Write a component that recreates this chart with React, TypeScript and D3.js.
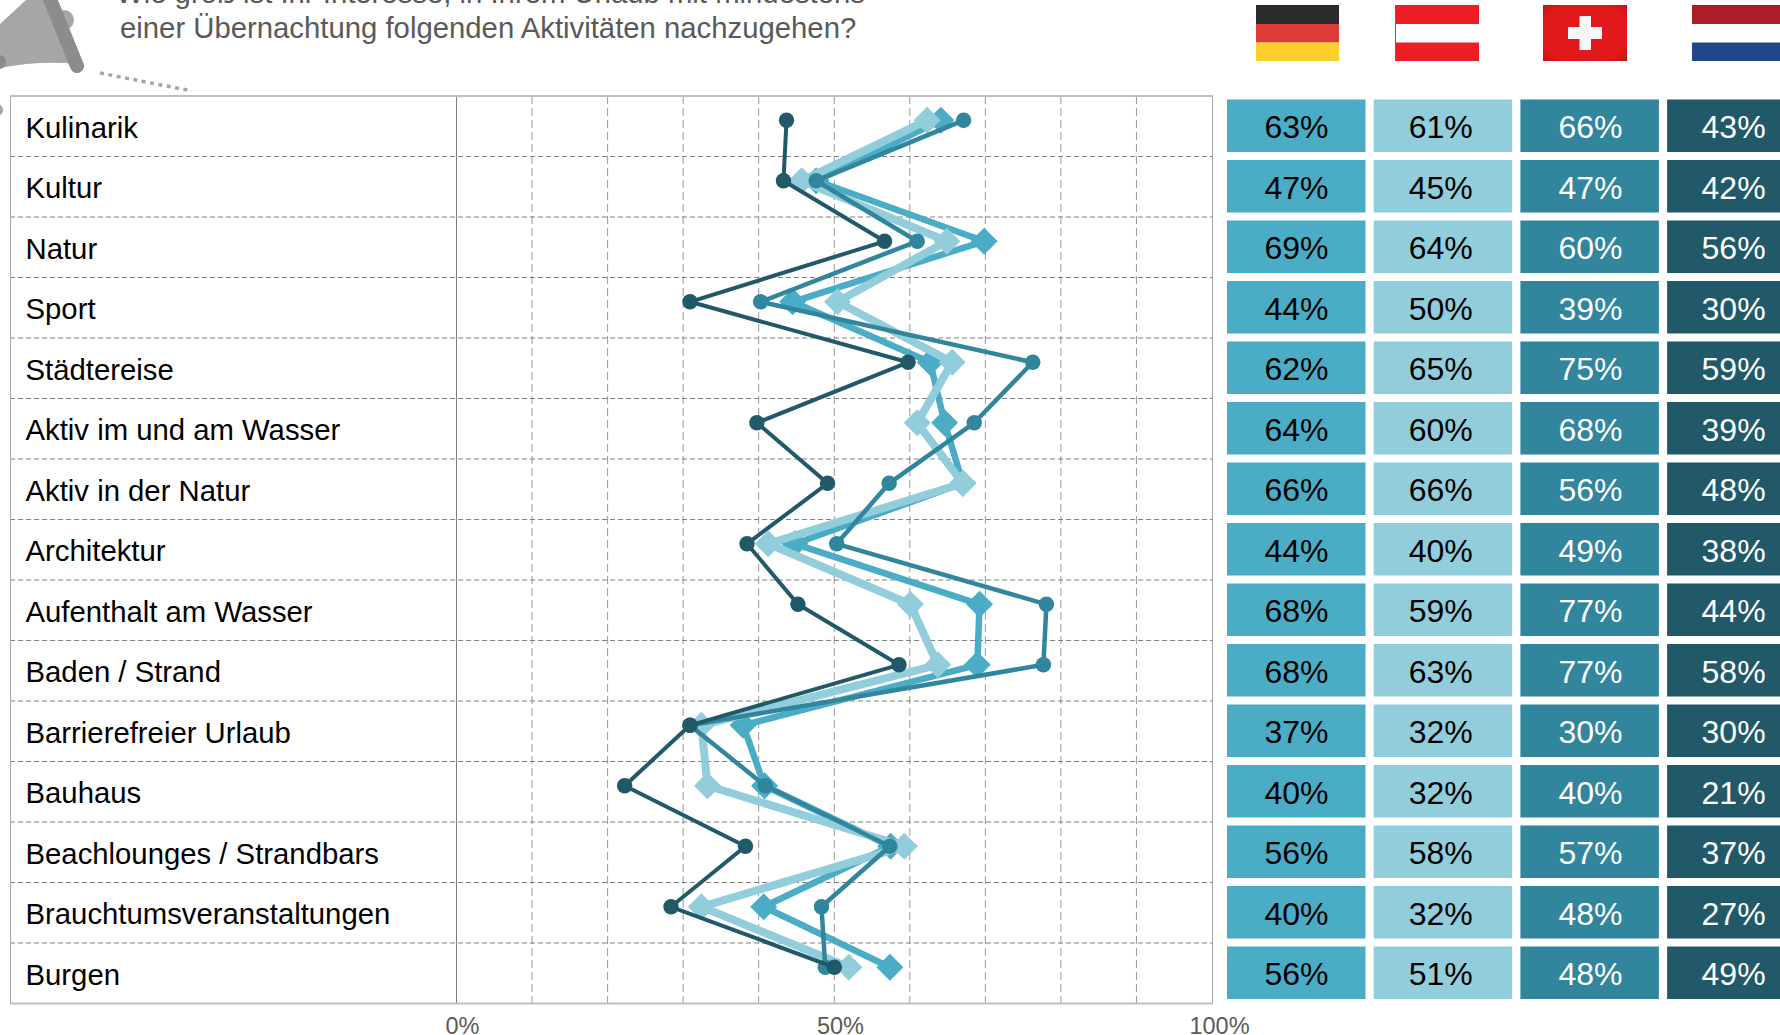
import React, { useEffect } from "react";
import * as d3 from "d3";

const categories = ["Kulinarik","Kultur","Natur","Sport","Städtereise","Aktiv im und am Wasser","Aktiv in der Natur","Architektur","Aufenthalt am Wasser","Baden / Strand","Barrierefreier Urlaub","Bauhaus","Beachlounges / Strandbars","Brauchtumsveranstaltungen","Burgen"];
// printed percentages
const germany = [63,47,69,44,62,64,66,44,68,68,37,40,56,40,56];
const austria = [61,45,64,50,65,60,66,40,59,63,32,32,58,32,51];
const switzerland = [66,47,60,39,75,68,56,49,77,77,30,40,57,48,48];
const netherlands = [43,42,56,30,59,39,48,38,44,58,30,21,37,27,49];
// unrounded values as plotted
const germanyPlot = [63,46.6,68.7,43.5,61.6,63.5,65.9,43.8,68.1,67.8,37,39.8,56.4,39.7,56.3];
const austriaPlot = [61.2,44.7,63.8,49.4,64.5,59.9,65.9,40.3,59,62.6,31.5,32.3,58.2,31.5,50.9];
const switzerlandPlot = [66,46.6,59.9,39.3,75.1,67.4,56.2,49.3,76.9,76.5,30,39.9,56.3,47.3,47.8];
const netherlandsPlot = [42.7,42.3,55.6,30,58.7,38.8,48.1,37.5,44.2,57.5,30,21.4,37.3,27.5,49];
const axisTicks = [0,50,100];
const gridTicks = [0,10,20,30,40,50,60,70,80,90,100];

const W = 1780, H = 1035;
const rowTop = 96, rowH = 60.5;
const series = [
  { values: germany, plot: germanyPlot, color: "#4BACC6", textColor: "#000", width: 6.5, marker: "diamond", size: 13.5, textDx: 0.5 },
  { values: austria, plot: austriaPlot, color: "#92CDDC", textColor: "#000", width: 8, marker: "diamond", size: 13.5, textDx: -2 },
  { values: switzerland, plot: switzerlandPlot, color: "#31859C", textColor: "#fff", width: 4.5, marker: "circle", size: 7.7, textDx: 1 },
  { values: netherlands, plot: netherlandsPlot, color: "#215968", textColor: "#fff", width: 4, marker: "circle", size: 7.7, textDx: -2.5 },
];

const xData = d3.scaleLinear().domain([0, 100]).range([462, 1222]);
const xGrid = d3.scaleLinear().domain([0, 100]).range([456.5, 1212]);
const yRow = d3.scaleBand<number>().domain(d3.range(categories.length)).range([rowTop, rowTop + rowH * categories.length]);
const yPoint = (i: number) => (yRow(i) as number) + 24.3;
const columns = d3.scaleLinear().domain([0, 1]).range([1227, 1373.7]);
const FONT = "'Liberation Sans', Arial, sans-serif";

export default function App() {
  useEffect(() => { document.body.style.margin = "0"; document.body.style.overflow = "hidden"; }, []);
  const line = d3.line<number>().x((d) => xData(d)).y((_, i) => yPoint(i));
  return (
    <svg width={W} height={H} viewBox={`0 0 ${W} ${H}`} style={{ display: "block", fontFamily: FONT, background: "#fff" }}>
      <defs>
        <radialGradient id="swiss" cx="50%" cy="50%" r="75%">
          <stop offset="70%" stopColor="#e2191a" />
          <stop offset="100%" stopColor="#b8120f" />
        </radialGradient>
      </defs>
      {/* megaphone */}
      <circle cx={64} cy={20} r={10} fill="#a6a6a6" />
      <path d="M0,24 L26,0 L50,0 L78,64 Q40,60 0,68 Z" fill="#a6a6a6" />
      <circle cx={-1} cy={62} r={7} fill="#8c8c8c" />
      <line x1={48} y1={-6} x2={77} y2={66} stroke="#8c8c8c" strokeWidth={14} strokeLinecap="round" />
      <circle cx={-3} cy={110} r={6} fill="#a6a6a6" />
      <line x1={100} y1={73} x2={192} y2={91} stroke="#a6a6a6" strokeWidth={3.5} strokeDasharray="4 4.5" />
      <text x={116} y={3} fontSize={29.3} fill="#595959">Wie groß ist Ihr Interesse, in Ihrem Urlaub mit mindestens</text>
      <text x={120} y={38} fontSize={29.3} fill="#595959">einer Übernachtung folgenden Aktivitäten nachzugehen?</text>

      {/* flags */}
      <g>
        <rect x={1256} y={5} width={83} height={19} fill="#2b2b2b" />
        <rect x={1256} y={24} width={83} height={18.5} fill="#de3a3a" />
        <rect x={1256} y={42.5} width={83} height={18.5} fill="#ffd02b" />
        <rect x={1395} y={5} width={84} height={56} fill="#ee1c25" />
        <rect x={1395} y={24} width={84} height={18.5} fill="#fff" />
        <line x1={1395.5} y1={5} x2={1395.5} y2={61} stroke="#666" strokeWidth={1} />
        <rect x={1543} y={5} width={84} height={56} fill="url(#swiss)" />
        <rect x={1568} y={27} width={34} height={12} fill="#f6f6f6" />
        <rect x={1579.5} y={16} width={11.5} height={34} fill="#f6f6f6" />
        <rect x={1692} y={5} width={88} height={19} fill="#ae1c28" />
        <rect x={1692} y={24} width={88} height={18.5} fill="#fff" />
        <rect x={1692} y={42.5} width={88} height={18.5} fill="#21468b" />
      </g>

      {/* grid */}
      {gridTicks.map((t) => t > 0 && t < 100 && (
        <line key={t} x1={xGrid(t)} x2={xGrid(t)} y1={rowTop} y2={rowTop + rowH * 15} stroke="#999999" strokeWidth={1} strokeDasharray="8 4" />
      ))}
      {categories.slice(1).map((_, i) => (
        <line key={i} x1={10} x2={1212} y1={yRow(i + 1) as number} y2={yRow(i + 1) as number} stroke="#808080" strokeWidth={1} strokeDasharray="5 3" />
      ))}
      <line x1={xGrid(0)} x2={xGrid(0)} y1={rowTop} y2={rowTop + rowH * 15} stroke="#808080" strokeWidth={1} />
      <rect x={10.5} y={rowTop} width={1202} height={rowH * 15} fill="none" stroke="#a6a6a6" strokeWidth={1} />
      <line x1={10} x2={1213} y1={rowTop} y2={rowTop} stroke="#bfbfbf" strokeWidth={2} />
      <line x1={10} x2={1213} y1={rowTop + rowH * 15} y2={rowTop + rowH * 15} stroke="#bfbfbf" strokeWidth={2} />

      {/* labels */}
      {categories.map((c, i) => (
        <text key={c} x={25.5} y={(yRow(i) as number) + 41.5} fontSize={29.3} fill="#000">{c}</text>
      ))}
      {axisTicks.map((t) => (
        <text key={t} x={xData(t) - (t === 100 ? 2.5 : t === 50 ? 1.5 : -0.5)} y={1033.5} fontSize={23.5} fill="#595959" textAnchor="middle">{t}%</text>
      ))}

      {/* series */}
      {series.map((s, k) => (
        <g key={k}>
          <path d={line(s.plot) as string} fill="none" stroke={s.color} strokeWidth={s.width} strokeLinejoin="round" />
          {s.plot.map((v, i) => s.marker === "circle"
            ? <circle key={i} cx={xData(v)} cy={yPoint(i)} r={s.size} fill={s.color} />
            : <path key={i} d={`M${xData(v) - s.size},${yPoint(i)}l${s.size},${-s.size}l${s.size},${s.size}l${-s.size},${s.size}Z`} fill={s.color} />)}
        </g>
      ))}

      {/* value cells */}
      {series.map((s, k) => s.values.map((v, i) => {
        const x0 = columns(k);
        const y0 = (yRow(i) as number) + 3.5;
        return (
          <g key={`${k}-${i}`}>
            <rect x={x0} y={y0} width={138.5} height={52.5} fill={s.color} />
            <text x={x0 + 69 + s.textDx} y={y0 + 38.5} fontSize={32} fill={s.textColor} textAnchor="middle">{v}%</text>
          </g>
        );
      }))}
    </svg>
  );
}
